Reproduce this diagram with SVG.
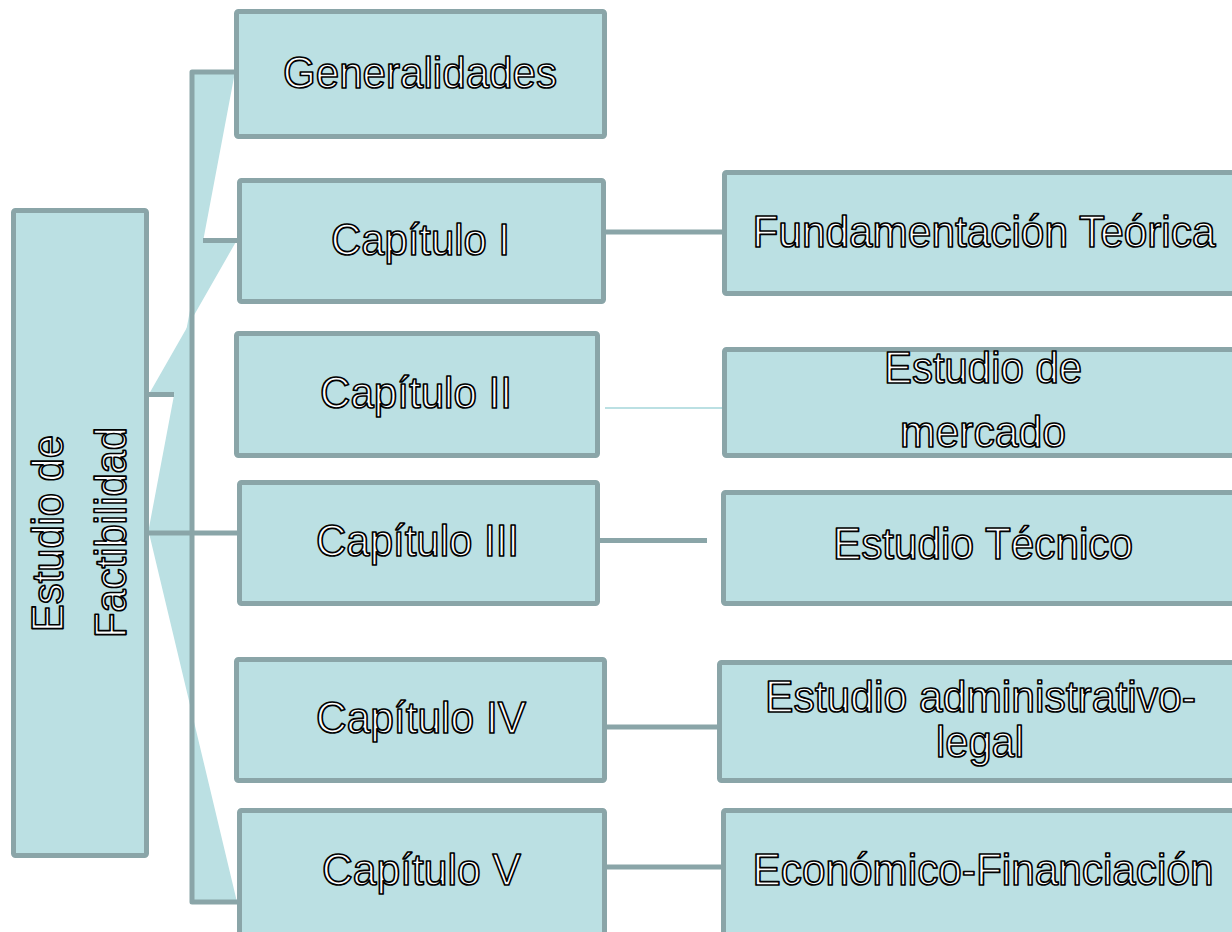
<svg xmlns="http://www.w3.org/2000/svg" width="1232" height="932" viewBox="0 0 1232 932">
<style>
.box{fill:#BBE0E3;stroke:#8AA5A8;stroke-width:5;stroke-linejoin:round}
.ln{fill:none;stroke:#8AA5A8;stroke-width:5;stroke-linejoin:round}
.lt{fill:none;stroke:#BBE0E3;stroke-width:2}
.fan{fill:#BBE0E3;stroke:none}
.t{font-family:"Liberation Sans",Arial,sans-serif;font-size:44px;fill:#FFFFFF;stroke:#000000;stroke-width:1.7;stroke-linejoin:round;text-anchor:middle}
</style>
<rect width="1232" height="932" fill="#FFFFFF"/>
<g id="connectors">
<path class="fan" d="M235,72 L192,72 L192,533 L148,533 Z"/>
<path class="fan" d="M237,240 L192,240 L192,394 L149,394 Z"/>
<path class="fan" d="M149,533 L192,533 L192,902 L237,902 Z"/>
<polyline class="ln" points="235,72 192,72 192,902 237,902"/>
<line class="ln" x1="203" y1="240.5" x2="237" y2="240.5"/>
<line class="ln" x1="149" y1="394.5" x2="174" y2="394.5"/>
<line class="ln" x1="149" y1="533" x2="237" y2="533"/>
<line class="ln" x1="606" y1="232" x2="722" y2="232"/>
<line class="lt" x1="605" y1="408" x2="722" y2="408"/>
<line class="ln" x1="600" y1="540.5" x2="707" y2="540.5"/>
<line class="ln" x1="606" y1="727" x2="717" y2="727"/>
<line class="ln" x1="606" y1="867" x2="721" y2="867"/>
</g>
<g id="estudio-factibilidad">
<rect class="box" x="13.5" y="210.5" width="133" height="645" rx="2"/>
<text class="t" transform="translate(63,533.5) rotate(-90)" textLength="197" lengthAdjust="spacingAndGlyphs">Estudio de</text>
<text class="t" transform="translate(126,532.5) rotate(-90)" textLength="211" lengthAdjust="spacingAndGlyphs">Factibilidad</text>
</g>
<g id="generalidades">
<rect class="box" x="236.5" y="11.5" width="368" height="125" rx="2"/>
<text class="t" x="420" y="88" textLength="274" lengthAdjust="spacingAndGlyphs">Generalidades</text>
</g>
<g id="capitulo-1">
<rect class="box" x="239.5" y="180.5" width="364" height="121" rx="2"/>
<text class="t" x="420.5" y="255" textLength="179" lengthAdjust="spacingAndGlyphs">Capítulo I</text>
</g>
<g id="capitulo-2">
<rect class="box" x="236.5" y="333.5" width="361" height="122" rx="2"/>
<text class="t" x="416" y="408" textLength="192" lengthAdjust="spacingAndGlyphs">Capítulo II</text>
</g>
<g id="capitulo-3">
<rect class="box" x="239.5" y="482.5" width="358" height="121" rx="2"/>
<text class="t" x="417.5" y="556" textLength="203" lengthAdjust="spacingAndGlyphs">Capítulo III</text>
</g>
<g id="capitulo-4">
<rect class="box" x="236.5" y="659.5" width="368" height="121" rx="2"/>
<text class="t" x="421" y="733" textLength="210" lengthAdjust="spacingAndGlyphs">Capítulo IV</text>
</g>
<g id="capitulo-5">
<rect class="box" x="239.5" y="810.5" width="365" height="135" rx="2"/>
<text class="t" x="421.5" y="885" textLength="199" lengthAdjust="spacingAndGlyphs">Capítulo V</text>
</g>
<g id="fundamentacion">
<rect class="box" x="724.5" y="172.5" width="520" height="121" rx="2"/>
<text class="t" x="984" y="247" textLength="463" lengthAdjust="spacingAndGlyphs">Fundamentación Teórica</text>
</g>
<g id="estudio-mercado">
<rect class="box" x="724.5" y="349.5" width="520" height="106" rx="2"/>
<text class="t" x="983" y="383" textLength="198" lengthAdjust="spacingAndGlyphs">Estudio de</text>
<text class="t" x="983" y="447" textLength="166" lengthAdjust="spacingAndGlyphs">mercado</text>
</g>
<g id="estudio-tecnico">
<rect class="box" x="723.5" y="492.5" width="520" height="111" rx="2"/>
<text class="t" x="983" y="559" textLength="300" lengthAdjust="spacingAndGlyphs">Estudio Técnico</text>
</g>
<g id="estudio-administrativo">
<rect class="box" x="719.5" y="662.5" width="524" height="118" rx="2"/>
<text class="t" x="980.5" y="712" textLength="431" lengthAdjust="spacingAndGlyphs">Estudio administrativo-</text>
<text class="t" x="980" y="757" textLength="88" lengthAdjust="spacingAndGlyphs">legal</text>
</g>
<g id="economico">
<rect class="box" x="723.5" y="810.5" width="520" height="135" rx="2"/>
<text class="t" x="983" y="885" textLength="461" lengthAdjust="spacingAndGlyphs">Económico-Financiación</text>
</g>
</svg>
